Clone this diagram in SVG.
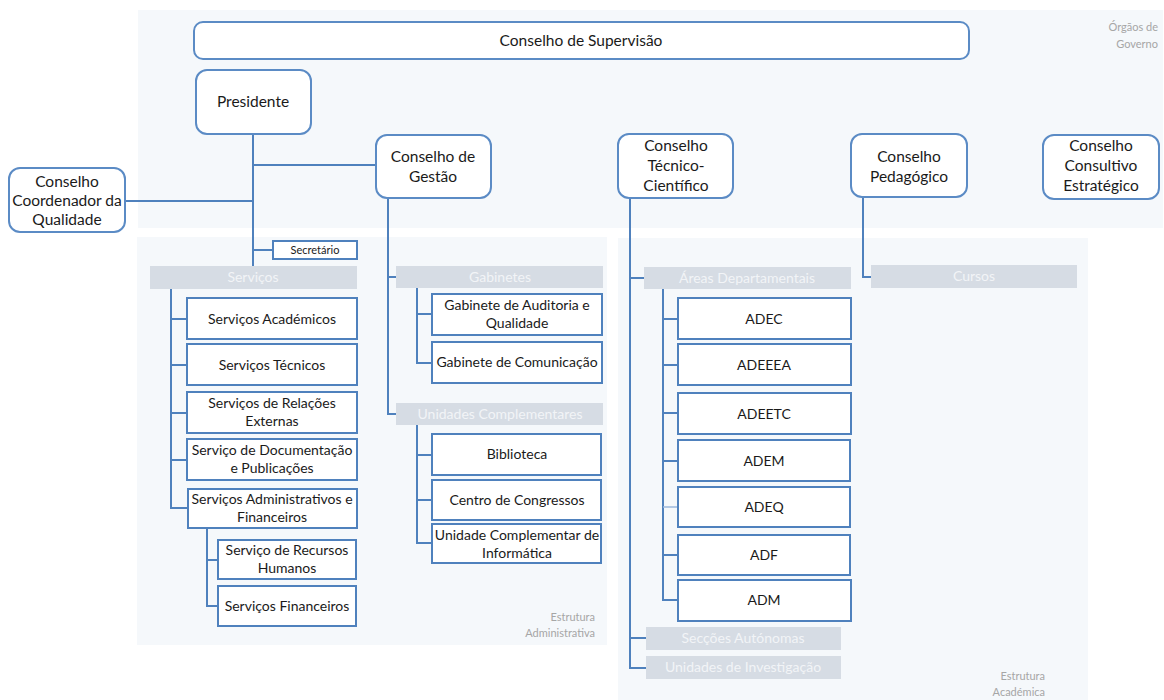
<svg xmlns="http://www.w3.org/2000/svg" width="1164" height="700" viewBox="0 0 1164 700">
<style>
.region{fill:#f5f8fb;stroke:none}
.rnode{fill:#ffffff;stroke:#5b8bc5;stroke-width:2}
.box{fill:#ffffff;stroke:#4f81bd;stroke-width:2}
.bar{fill:#d6dce4;stroke:none}
.t{font-family:Lato,"Open Sans","Liberation Sans",sans-serif;fill:#1a1a1a;text-anchor:middle}
.big{font-size:15.5px}
.mid{font-size:14px}
.sm{font-size:11px}
.bt{font-family:Lato,"Open Sans","Liberation Sans",sans-serif;font-size:14px;fill:#f2f4f7;text-anchor:middle}
.lbl{font-family:Lato,"Open Sans","Liberation Sans",sans-serif;font-size:11px;fill:#a6a6a6;text-anchor:end}
.c{fill:none;stroke:#4f81bd;stroke-width:2}
</style>
<rect width="1164" height="700" fill="#ffffff"/>
<g id="regions">
<rect class="region" x="138" y="10" width="1025" height="218"/>
<rect class="region" x="137" y="237" width="470" height="408"/>
<rect class="region" x="618" y="238" width="470" height="462"/>
<text class="lbl" x="1158" y="31">Órgãos de</text>
<text class="lbl" x="1158" y="48">Governo</text>
<text class="lbl" x="595" y="621">Estrutura</text>
<text class="lbl" x="595" y="637">Administrativa</text>
<text class="lbl" x="1045" y="680">Estrutura</text>
<text class="lbl" x="1045" y="696">Académica</text>
</g>
<g id="connectors">
<path class="c" d="M253,134 V266"/>
<path class="c" d="M253,165 H376"/>
<path class="c" d="M125,201 H253"/>
<path class="c" d="M253,250 H273"/>
<path class="c" d="M388,198 V414 H396"/>
<path class="c" d="M388,277 H396"/>
<path class="c" d="M171,289 V508 H188"/>
<path class="c" d="M171,319 H187 M171,365 H187 M171,413 H187 M171,460 H187"/>
<path class="c" d="M207,528 V606 H218 M207,560 H218"/>
<path class="c" d="M417,288 V363 H432 M417,314 H432"/>
<path class="c" d="M417,425 V543 H432 M417,455 H432 M417,500 H432"/>
<path class="c" d="M630,198 V668 H646 M630,278 H644 M630,638 H646"/>
<path class="c" d="M663,289 V600 H678 M663,319 H678 M663,365 H678 M663,413 H678 M663,461 H678 M663,555 H678"/>
<path d="M663,507 H678" fill="none" stroke="#9bb8dc" stroke-width="1.5"/>
<path class="c" d="M863,197 V277 H871"/>
</g>
<g id="conselho-supervisao">
<rect class="rnode" x="194" y="22" width="775" height="37" rx="9"/>
<text class="t big" x="581" y="46">Conselho de Supervisão</text>
</g>
<g id="presidente">
<rect class="rnode" x="196" y="70" width="115" height="64" rx="11"/>
<text class="t big" x="253" y="107">Presidente</text>
</g>
<g id="ccq">
<rect class="rnode" x="9" y="168" width="116" height="64" rx="11"/>
<text class="t big" x="67" y="187">Conselho</text>
<text class="t big" x="67" y="206">Coordenador da</text>
<text class="t big" x="67" y="225">Qualidade</text>
</g>
<g id="conselho-gestao">
<rect class="rnode" x="376" y="135" width="115" height="63" rx="11"/>
<text class="t big" x="433" y="162">Conselho de</text>
<text class="t big" x="433" y="182">Gestão</text>
</g>
<g id="ctc">
<rect class="rnode" x="618" y="134" width="115" height="64" rx="11"/>
<text class="t big" x="676" y="151">Conselho</text>
<text class="t big" x="676" y="171">Técnico-</text>
<text class="t big" x="676" y="191">Científico</text>
</g>
<g id="cp">
<rect class="rnode" x="851" y="134" width="116" height="63" rx="11"/>
<text class="t big" x="909" y="162">Conselho</text>
<text class="t big" x="909" y="182">Pedagógico</text>
</g>
<g id="cce">
<rect class="rnode" x="1043" y="135" width="116" height="64" rx="11"/>
<text class="t big" x="1101" y="151">Conselho</text>
<text class="t big" x="1101" y="171">Consultivo</text>
<text class="t big" x="1101" y="191">Estratégico</text>
</g>
<g id="secretario">
<rect class="box" x="273" y="241" width="84" height="18"/>
<text class="t sm" x="315" y="254">Secretário</text>
</g>
<g id="bar-servicos">
<rect class="bar" x="150" y="266" width="207" height="23"/>
<text class="bt" x="253" y="282">Serviços</text>
</g>
<g id="bar-gabinetes">
<rect class="bar" x="396" y="266" width="207" height="22"/>
<text class="bt" x="500" y="282">Gabinetes</text>
</g>
<g id="bar-unidades-comp">
<rect class="bar" x="396" y="403" width="207" height="22"/>
<text class="bt" x="500" y="419">Unidades Complementares</text>
</g>
<g id="bar-areas">
<rect class="bar" x="644" y="267" width="207" height="22"/>
<text class="bt" x="747" y="283">Áreas Departamentais</text>
</g>
<g id="bar-seccoes">
<rect class="bar" x="646" y="627" width="195" height="23"/>
<text class="bt" x="743" y="643">Secções Autónomas</text>
</g>
<g id="bar-investigacao">
<rect class="bar" x="646" y="656" width="195" height="23"/>
<text class="bt" x="743" y="672">Unidades de Investigação</text>
</g>
<g id="bar-cursos">
<rect class="bar" x="871" y="265" width="206" height="23"/>
<text class="bt" x="974" y="281">Cursos</text>
</g>
<g id="serv-academicos">
<rect class="box" x="187" y="298" width="170" height="41"/>
<text class="t mid" x="272" y="324">Serviços Académicos</text>
</g>
<g id="serv-tecnicos">
<rect class="box" x="187" y="344" width="170" height="41"/>
<text class="t mid" x="272" y="370">Serviços Técnicos</text>
</g>
<g id="serv-relacoes">
<rect class="box" x="187" y="392" width="170" height="41"/>
<text class="t mid" x="272" y="408">Serviços de Relações</text>
<text class="t mid" x="272" y="426">Externas</text>
</g>
<g id="serv-documentacao">
<rect class="box" x="187" y="439" width="170" height="41"/>
<text class="t mid" x="272" y="455">Serviço de Documentação</text>
<text class="t mid" x="272" y="473">e Publicações</text>
</g>
<g id="serv-admin">
<rect class="box" x="188" y="489" width="169" height="39"/>
<text class="t mid" x="272" y="504">Serviços Administrativos e</text>
<text class="t mid" x="272" y="522">Financeiros</text>
</g>
<g id="serv-rh">
<rect class="box" x="218" y="540" width="138" height="39"/>
<text class="t mid" x="287" y="555">Serviço de Recursos</text>
<text class="t mid" x="287" y="573">Humanos</text>
</g>
<g id="serv-financeiros">
<rect class="box" x="218" y="586" width="138" height="40"/>
<text class="t mid" x="287" y="611">Serviços Financeiros</text>
</g>
<g id="gab-auditoria">
<rect class="box" x="432" y="294" width="170" height="41"/>
<text class="t mid" x="517" y="310">Gabinete de Auditoria e</text>
<text class="t mid" x="517" y="328">Qualidade</text>
</g>
<g id="gab-comunicacao">
<rect class="box" x="432" y="342" width="170" height="41"/>
<text class="t mid" x="517" y="367">Gabinete de Comunicação</text>
</g>
<g id="biblioteca">
<rect class="box" x="432" y="434" width="169" height="41"/>
<text class="t mid" x="517" y="459">Biblioteca</text>
</g>
<g id="centro-congressos">
<rect class="box" x="432" y="480" width="169" height="40"/>
<text class="t mid" x="517" y="505">Centro de Congressos</text>
</g>
<g id="uci">
<rect class="box" x="432" y="524" width="169" height="39"/>
<text class="t mid" x="517" y="540">Unidade Complementar de</text>
<text class="t mid" x="517" y="558">Informática</text>
</g>
<g id="adec">
<rect class="box" x="678" y="298" width="173" height="41"/>
<text class="t mid" x="764" y="324">ADEC</text>
</g>
<g id="adeeea">
<rect class="box" x="678" y="344" width="173" height="41"/>
<text class="t mid" x="764" y="370">ADEEEA</text>
</g>
<g id="adeetc">
<rect class="box" x="678" y="393" width="173" height="41"/>
<text class="t mid" x="764" y="419">ADEETC</text>
</g>
<g id="adem">
<rect class="box" x="678" y="440" width="172" height="41"/>
<text class="t mid" x="764" y="466">ADEM</text>
</g>
<g id="adeq">
<rect class="box" x="678" y="487" width="172" height="40"/>
<text class="t mid" x="764" y="512">ADEQ</text>
</g>
<g id="adf">
<rect class="box" x="678" y="535" width="172" height="40"/>
<text class="t mid" x="764" y="560">ADF</text>
</g>
<g id="adm">
<rect class="box" x="678" y="580" width="173" height="41"/>
<text class="t mid" x="764" y="605">ADM</text>
</g>
</svg>
